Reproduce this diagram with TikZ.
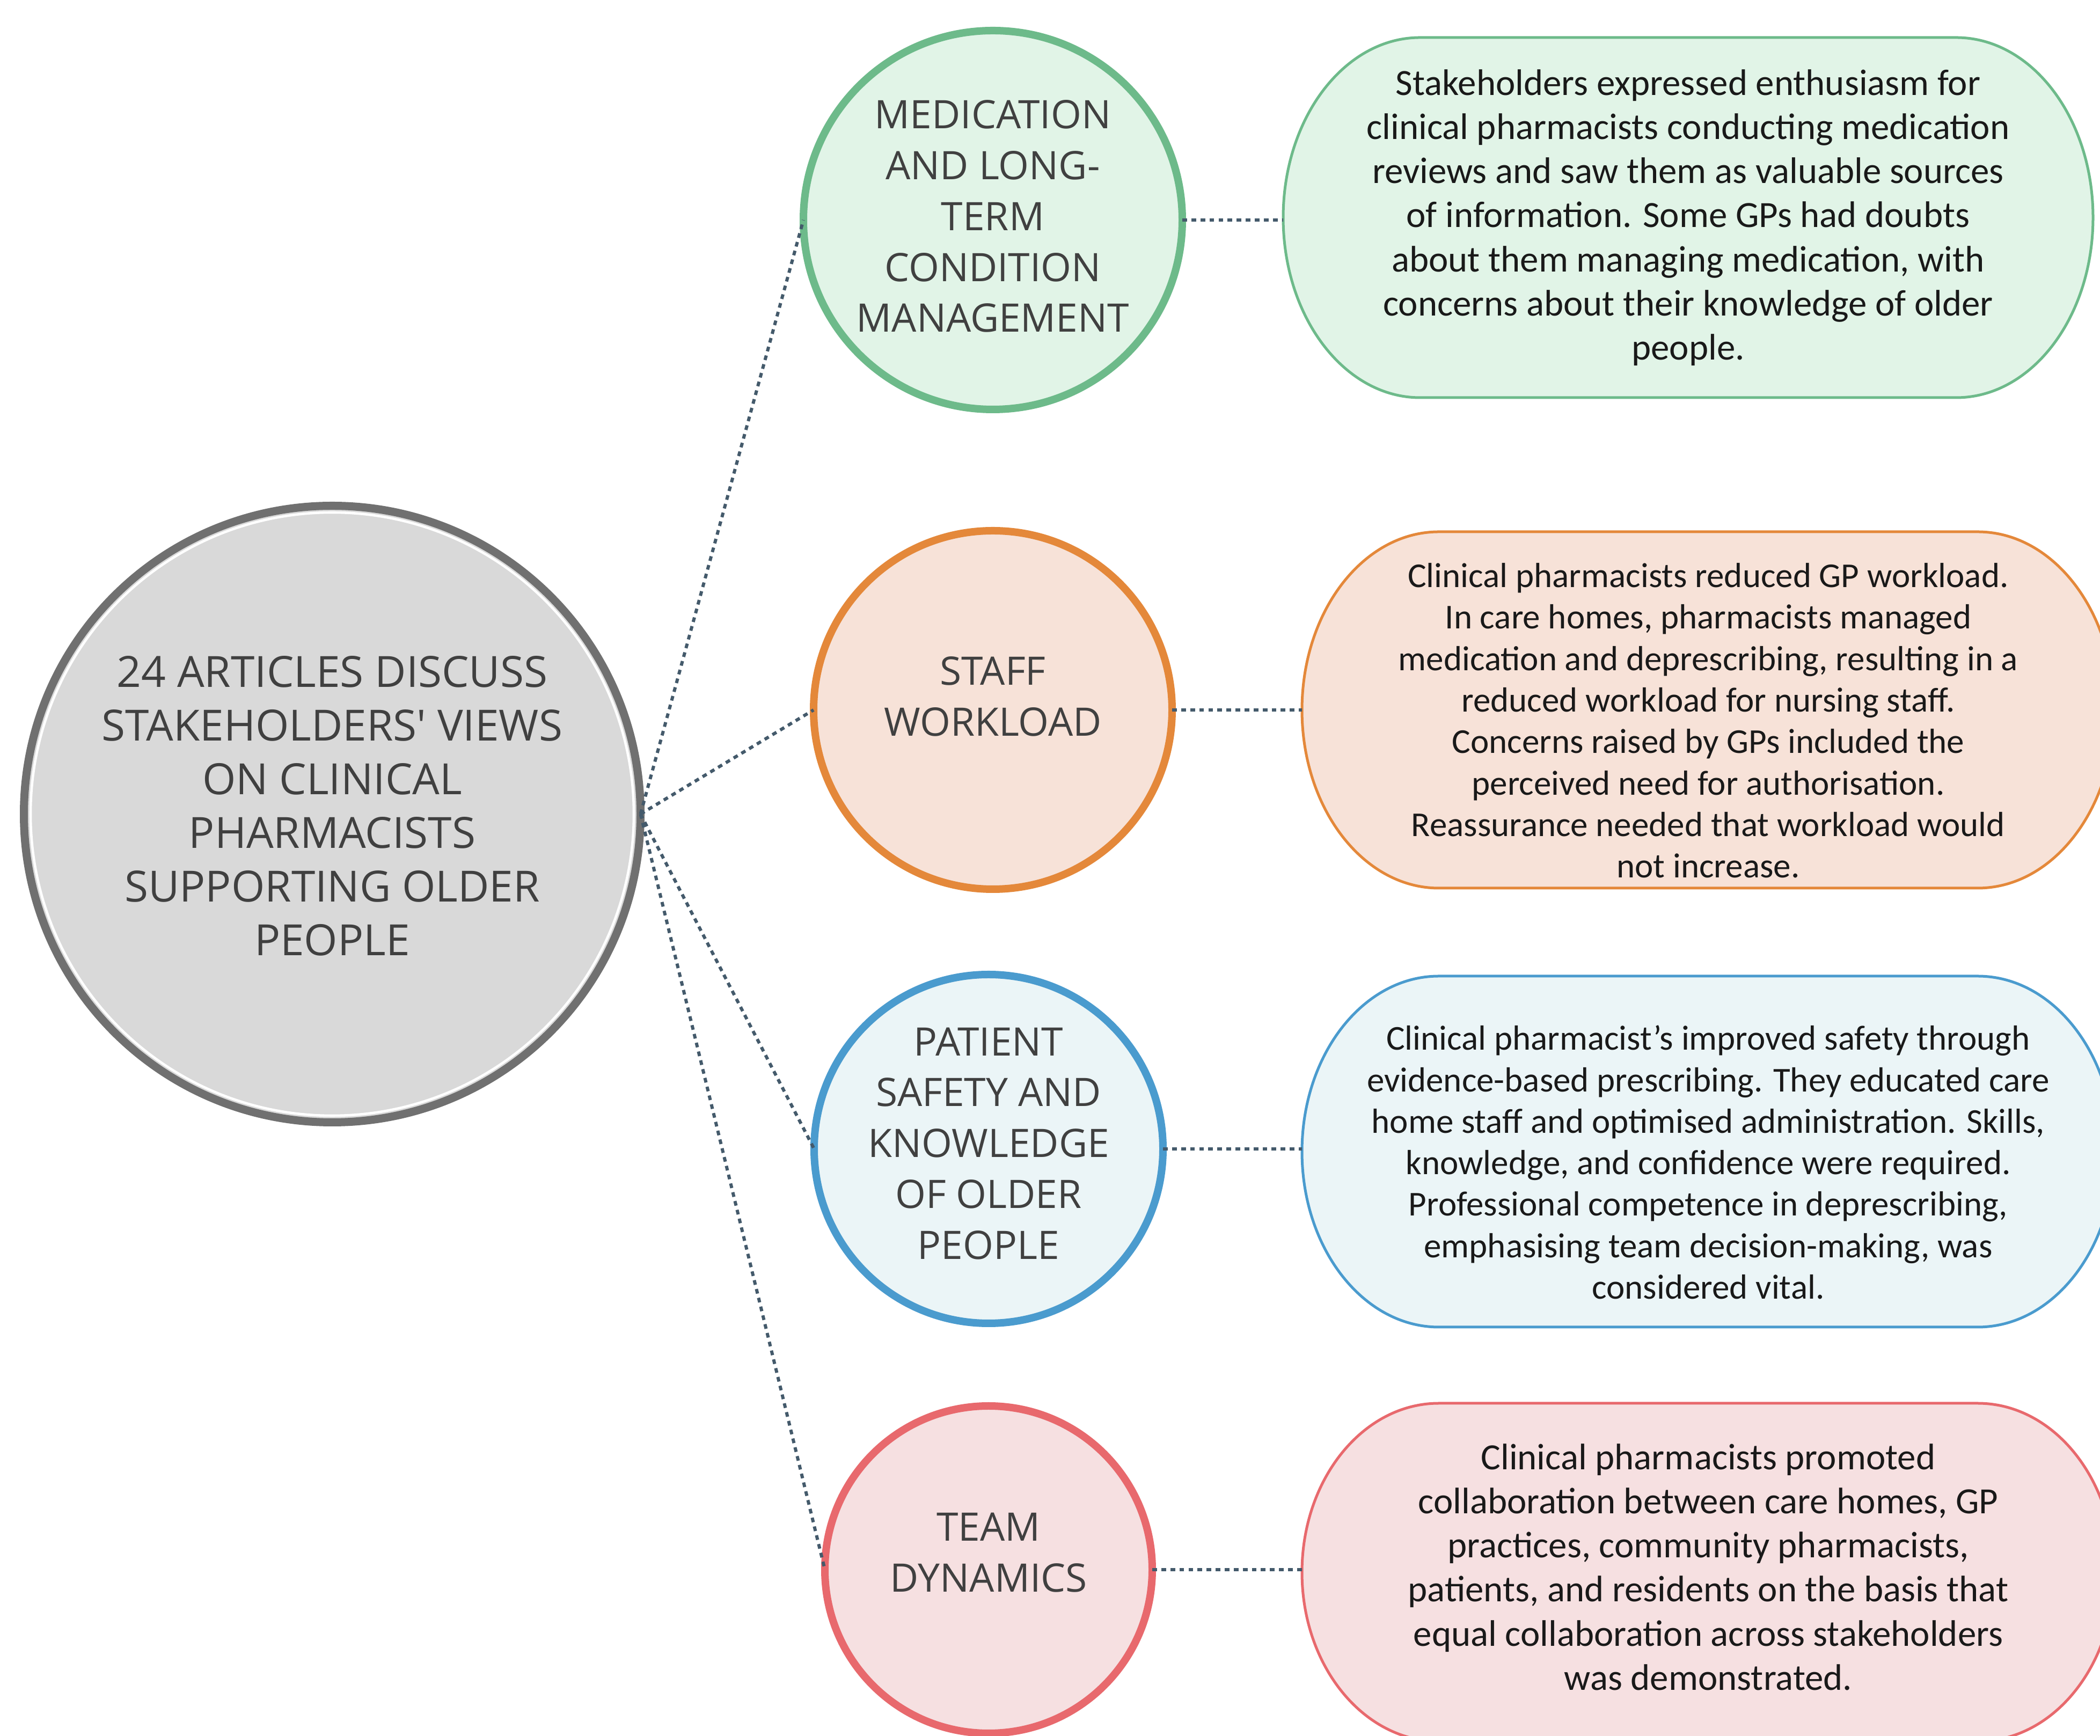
\documentclass[tikz,border=0pt]{standalone}
\usepackage{fontspec}
\setmainfont{Carlito}
\newfontfamily\circlefont{Open Sans}
\usetikzlibrary{calc}

\definecolor{hubring}{HTML}{707070}
\definecolor{hubfill}{HTML}{D9D9D9}
\definecolor{labelgray}{HTML}{404040}
\definecolor{linkblue}{HTML}{445A6B}
\definecolor{greenring}{HTML}{6DBA8A}
\definecolor{greenfill}{HTML}{E1F4E7}
\definecolor{orangering}{HTML}{E4883A}
\definecolor{orangefill}{HTML}{F7E2D8}
\definecolor{bluering}{HTML}{4A9BCE}
\definecolor{bluefill}{HTML}{EBF5F7}
\definecolor{redring}{HTML}{E8696D}
\definecolor{redfill}{HTML}{F6E0E1}

\newcommand{\pillbox}[3]{%
	\path[draw=#2, fill=#3, line width=0.05cm] let \p1=(#1.north west), \p2=(#1.south east), \n1={0.5*(\y1-\y2)} in (\x1+2.55cm,\y1) -- (\x2-2.55cm,\y1) arc[start angle=90, end angle=-90, x radius=2.55cm, y radius=\n1] -- (\x1+2.55cm,\y2) arc[start angle=270, end angle=90, x radius=2.55cm, y radius=\n1] -- cycle;
}

\begin{document}
\begin{tikzpicture}[
	themecircle/.style={circle, line width=0.14cm, inner sep=0pt, outer sep=0pt},
	circlelabel/.style={align=center, text=labelgray, font=\circlefont\fontsize{20.8}{27}\selectfont},
	summarybox/.style={rectangle, inner sep=0pt, outer sep=0pt},
	summarytext/.style={align=center, text=black!90},
	link/.style={draw=linkblue, line width=1.7pt, dash pattern=on 2.5pt off 2.3pt}
]

				\path[use as bounding box] (0,0) rectangle (39.13,32.35);
				\clip (0,0) rectangle (39.13,32.35);

				\node[circle, draw=hubring, fill=hubfill, line width=0.15cm, minimum size=11.49cm, inner sep=0pt, outer sep=0pt] (centrecircle) at (6.19,17.18) {};
				\draw[white, line width=1.3pt] (centrecircle.center) circle (5.62);
				\node[circlelabel, font=\circlefont\fontsize{22.8}{28.45}\selectfont] (centrelabel) at ([yshift=0.15cm]centrecircle.center) {24 ARTICLES DISCUSS\\STAKEHOLDERS\textquotesingle{} VIEWS\\ON CLINICAL\\PHARMACISTS\\SUPPORTING OLDER\\PEOPLE};

				\node[themecircle, draw=greenring, fill=greenfill, minimum size=7.06cm] (medicationcircle) at (18.50,28.25) {};
				\node[themecircle, draw=orangering, fill=orangefill, minimum size=6.68cm] (workloadcircle) at (18.50,19.12) {};
				\node[themecircle, draw=bluering, fill=bluefill, minimum size=6.50cm] (safetycircle) at (18.42,10.94) {};
				\node[themecircle, draw=redring, fill=redfill, minimum size=6.10cm] (teamcircle) at (18.42,3.10) {};

				\node[circlelabel] (medicationlabel) at ([yshift=0.07cm]medicationcircle.center) {MEDICATION\\AND LONG-\\TERM\\CONDITION\\MANAGEMENT};
				\node[circlelabel] (workloadlabel) at ([yshift=0.25cm]workloadcircle.center) {STAFF\\WORKLOAD};
				\node[circlelabel] (safetylabel) at ([yshift=0.10cm]safetycircle.center) {PATIENT\\SAFETY AND\\KNOWLEDGE\\OF OLDER\\PEOPLE};
				\node[circlelabel] (teamlabel) at ([yshift=0.32cm]teamcircle.center) {TEAM\\DYNAMICS};

				\node[summarybox, minimum width=15.09cm, minimum height=6.71cm] (medicationbox) at (31.455,28.295) {};
				\node[summarybox, minimum width=15.14cm, minimum height=6.64cm] (workloadbox) at (31.83,19.12) {};
				\node[summarybox, minimum width=15.14cm, minimum height=6.54cm] (safetybox) at (31.83,10.89) {};
				\node[summarybox, minimum width=15.14cm, minimum height=6.30cm] (teambox) at (31.83,3.05) {};

				\pillbox{medicationbox}{greenring}{greenfill}
				\pillbox{workloadbox}{orangering}{orangefill}
				\pillbox{safetybox}{bluering}{bluefill}
				\pillbox{teambox}{redring}{redfill}

				\node[summarytext, font=\fontsize{19.6}{23.4}\selectfont] (medicationtext) at (medicationbox.center) {Stakeholders expressed enthusiasm for\\clinical pharmacists conducting medication\\reviews and saw them as valuable sources\\of information. Some GPs had doubts\\about them managing medication, with\\concerns about their knowledge of older\\people.};
				\node[summarytext, font=\fontsize{18.5}{22}\selectfont] (workloadtext) at ([yshift=-0.2cm]workloadbox.center) {Clinical pharmacists reduced GP workload.\\In care homes, pharmacists managed\\medication and deprescribing, resulting in a\\reduced workload for nursing staff.\\Concerns raised by GPs included the\\perceived need for authorisation.\\Reassurance needed that workload would\\not increase.};
				\node[summarytext, font=\fontsize{18.5}{22}\selectfont] (safetytext) at ([yshift=-0.2cm]safetybox.center) {Clinical pharmacist’s improved safety through\\evidence-based prescribing. They educated care\\home staff and optimised administration. Skills,\\knowledge, and confidence were required.\\Professional competence in deprescribing,\\emphasising team decision-making, was\\considered vital.};
				\node[summarytext, font=\fontsize{19.6}{23.4}\selectfont] (teamtext) at ([yshift=0.1cm]teambox.center) {Clinical pharmacists promoted\\collaboration between care homes, GP\\practices, community pharmacists,\\patients, and residents on the basis that\\equal collaboration across stakeholders\\was demonstrated.};

				\draw[link] (centrecircle.east) -- (medicationcircle.west);
				\draw[link] (centrecircle.east) -- (workloadcircle.west);
				\draw[link] (centrecircle.east) -- (safetycircle.west);
				\draw[link] (centrecircle.east) -- (teamcircle.west);

				\draw[link] (medicationcircle.east) -- (medicationcircle.east -| medicationbox.west);
				\draw[link] (workloadcircle.east) -- (workloadcircle.east -| workloadbox.west);
				\draw[link] (safetycircle.east) -- (safetycircle.east -| safetybox.west);
				\draw[link] (teamcircle.east) -- (teamcircle.east -| teambox.west);

			\end{tikzpicture}
\end{document}
